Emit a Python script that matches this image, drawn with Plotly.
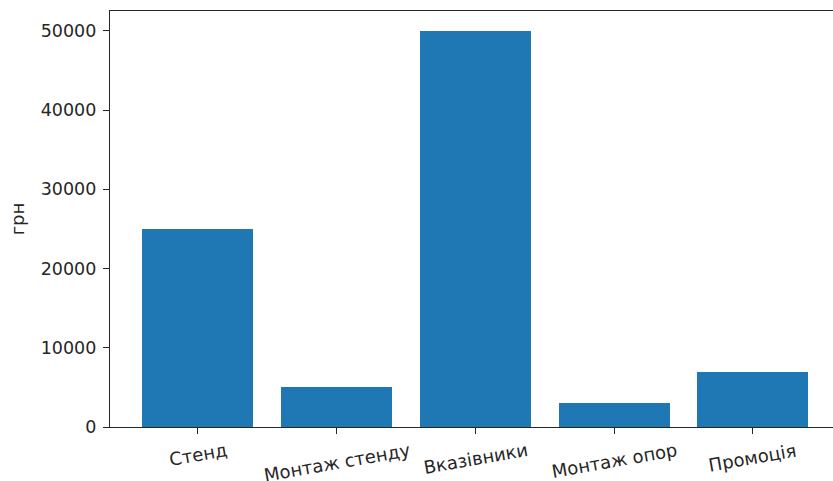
import plotly.graph_objects as go

categories = ["Стенд", "Монтаж стенду", "Вказівники", "Монтаж опор", "Промоція"]
costs = [25000, 5000, 50000, 3000, 7000]
y_ticks = [0, 10000, 20000, 30000, 40000, 50000]

fig = go.Figure()
fig.add_bar(x=list(range(len(categories))), y=costs, width=0.8,
            marker=dict(color="#1f77b4", line=dict(width=0)))

font = dict(family="DejaVu Sans", size=18, color="#262626")

# right side runs off the window like in the cropped original
fig.update_layout(
    width=833, height=481,
    margin=dict(l=110, r=0, t=11, b=54),
    paper_bgcolor="white", plot_bgcolor="white",
    font=font,
    showlegend=False,
    bargap=0,
)
fig.update_xaxes(
    range=[-0.634, 4.577], automargin=False,
    tickvals=list(range(len(categories))), showticklabels=False,
    showgrid=False, zeroline=False,
    showline=True, linecolor="#262626", linewidth=1.4, mirror=True,
    ticks="outside", ticklen=6, tickwidth=1.4, tickcolor="#262626",
)
fig.update_yaxes(
    range=[0, 52500], automargin=False,
    tickvals=y_ticks, ticktext=[str(v) for v in y_ticks],
    tickfont=dict(family="DejaVu Sans", size=17.5, color="#262626"),
    ticklabelstandoff=3,
    title=dict(text="грн", font=font, standoff=11),
    showgrid=False, zeroline=False,
    showline=True, linecolor="#262626", linewidth=1.4,
    ticks="outside", ticklen=6, tickwidth=1.4, tickcolor="#262626",
)

# rotated category labels, centred under each tick
for i, name in enumerate(categories):
    fig.add_annotation(x=i, y=0, xref="x", yref="paper", text=name,
                       textangle=-10, showarrow=False, xanchor="center",
                       yanchor="top", yshift=-10, font=font)

# drop the default page margin so the figure sits at the window corner
fig.write_html("out.html",
               config={"displayModeBar": False},
               post_script="document.body.style.margin='0';"
                           "document.body.style.overflow='hidden';")
